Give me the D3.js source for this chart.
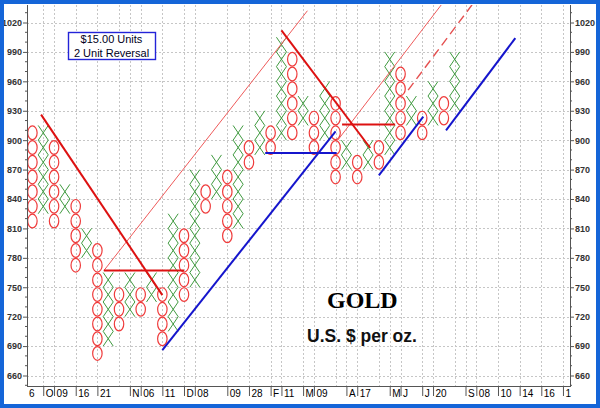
<!DOCTYPE html>
<html>
<head>
<meta charset="utf-8">
<script src="https://cdn.jsdelivr.net/npm/d3@7"></script>
<style>
  body { margin: 0; background: #fff; }
  svg { display: block; font-family: "Liberation Sans", Arial, sans-serif; }
  .grid line { stroke: #c6c6c6; stroke-width: 1; stroke-dasharray: 2,2; }
  .axis-line { stroke: #555; stroke-width: 1; }
  .axis .tick line { stroke: #555; }
  .axis--y text { font-size: 9px; font-weight: bold; fill: #333; }
  .axis--x text { font-size: 10px; fill: #000; }
  .xbox { fill: none; stroke: #3f9a3f; stroke-width: 1; }
  .obox { fill: none; stroke: #ef3b3b; stroke-width: 1.2; }
  .trend { fill: none; }
  .trend.down { stroke: #dd1111; stroke-width: 2; }
  .trend.thin { stroke: #ee5a5a; stroke-width: 1; }
  .trend.dash { stroke: #e55050; stroke-width: 1.4; stroke-dasharray: 9,5; }
  .trend.blue { stroke: #1515cc; stroke-width: 2; }
</style>
</head>
<body>
<div id="pf-chart"></div>
<script>
// point & figure columns: kind, lowest box edge, highest box edge ($)
const colKind = ['O','X','O','X','O','X','O','X','O','X',
                 'O','X','O','X','O','X','O','X','O','X',
                 'O','X','O','X','O','X','O','X','O','X',
                 'O','X','O','X','O','X','O','X','O','X'];
const colLow  = [810, 825, 810, 825, 765, 780, 675, 690, 705, 720,
                 720, 735, 690, 705, 735, 750, 825, 840, 795, 810,
                 870, 885, 885, 900, 900, 915, 885, 900, 855, 870,
                 855, 870, 870, 885, 900, 915, 900, 915, 915, 930];
const colHigh = [915, 915, 900, 855, 840, 810, 795, 765, 750, 765,
                 750, 765, 750, 825, 810, 870, 855, 885, 870, 915,
                 900, 930, 915, 1005, 990, 945, 930, 960, 945, 900,
                 885, 900, 900, 990, 975, 945, 930, 960, 945, 990];
const boxSize = 15;

const priceTicks = [660, 690, 720, 750, 780, 810, 840, 870, 900, 930, 960, 990, 1020];

// date labels under the columns
const dateCols = [0, 1, 2, 4, 6, 9, 10, 12, 14, 15, 18, 20, 22, 23, 25, 26, 29, 30, 33, 34, 36, 37, 40, 41, 43, 45, 47, 49];
const dateText = ['6','O','09','16','21','N','06','11','D','08','09','28','F','11','M','09','A','17','M','J','J','20','S','08','10','14','16','1'];
const gridCols = [1, 2, 4, 6, 8, 9, 10, 12, 14, 15, 18, 20, 22, 23, 25, 26, 28, 29, 30, 32, 33, 34, 36, 37, 39, 40, 41, 43, 45, 47, 49];

// trend lines as [column, price] end points
const downLines  = [[[0.8, 926], [12.0, 742]], [[23.0, 1012], [31.2, 892]],
                    [[6.6, 767], [14.0, 767]], [[28.6, 916], [33.5, 916]]];
const thinLines  = [[[6.6, 767], [25.4, 1032]], [[28.2, 900], [37.9, 1040]]];
const dashLines  = [[[34.7, 951], [40.6, 1038]]];
const blueLines  = [[[12.0, 686], [28.0, 909]], [[21.5, 887], [28.1, 887]],
                    [[32.0, 864], [36.1, 924]], [[38.2, 910], [44.6, 1004]]];

const width = 600,
      height = 408,
      plot = {left: 27, right: 570, top: 5, bottom: 386};

const x = d3.scaleLinear().domain([-0.5, 49.65]).range([plot.left, plot.right]);
const y = d3.scaleLinear().domain([1020, 660]).range([22.5, 375.5]);

const svg = d3.select('#pf-chart').append('svg')
    .attr('width', width)
    .attr('height', height);

svg.append('clipPath').attr('id', 'plot-clip')
  .append('rect')
    .attr('x', plot.left)
    .attr('y', plot.top)
    .attr('width', plot.right - plot.left)
    .attr('height', plot.bottom - plot.top);

// dotted grid
const grid = svg.append('g').attr('class', 'grid');
grid.selectAll('.hgrid')
    .data(priceTicks)
    .enter().append('line')
    .attr('x1', plot.left).attr('x2', plot.right)
    .attr('y1', d => Math.round(y(d)) + 0.5).attr('y2', d => Math.round(y(d)) + 0.5);
grid.selectAll('.vgrid')
    .data(gridCols)
    .enter().append('line')
    .attr('x1', d => Math.round(x(d)) + 0.5).attr('x2', d => Math.round(x(d)) + 0.5)
    .attr('y1', plot.top).attr('y2', plot.bottom);

// boxes
const boxes = colKind.flatMap((kind, i) =>
    d3.range(colLow[i], colHigh[i], boxSize).map(v => ({col: i, kind: kind, v: v + boxSize / 2})));

const hw = (x(1) - x(0)) / 2 - 0.4,
      hh = (y(0) - y(boxSize)) / 2;

const chart = svg.append('g');

chart.selectAll('.xbox')
    .data(boxes.filter(d => d.kind === 'X'))
    .enter().append('path')
    .attr('class', 'xbox')
    .attr('d', d => {
        const cx = x(d.col), cy = y(d.v);
        return `M${cx - hw},${cy - hh}L${cx + hw},${cy + hh}M${cx + hw},${cy - hh}L${cx - hw},${cy + hh}`;
    });

chart.selectAll('.obox')
    .data(boxes.filter(d => d.kind === 'O'))
    .enter().append('ellipse')
    .attr('class', 'obox')
    .attr('cx', d => x(d.col))
    .attr('cy', d => y(d.v))
    .attr('rx', hw - 0.3)
    .attr('ry', hh - 0.5);

// trend lines
const line = d3.line()
    .x(d => x(d[0]))
    .y(d => y(d[1]));

const trends = svg.append('g').attr('clip-path', 'url(#plot-clip)');
[[thinLines, 'thin'], [dashLines, 'dash'], [downLines, 'down'], [blueLines, 'blue']].forEach(([set, cls]) => {
    trends.selectAll('.' + cls)
        .data(set)
        .enter().append('path')
        .attr('class', 'trend ' + cls)
        .attr('d', line);
});

// axes
let yLeft = d3.axisLeft(y).tickValues(priceTicks).tickFormat(d3.format('d')).tickSize(4).tickPadding(1);
svg.append('g')
    .attr('class', 'axis axis--y')
    .attr('transform', `translate(${plot.left},0)`)
    .call(yLeft)
    .call(g => g.select('.domain').remove());

let yRight = d3.axisRight(y).tickValues(priceTicks).tickFormat(d3.format('d')).tickSize(4).tickPadding(1);
svg.append('g')
    .attr('class', 'axis axis--y')
    .attr('transform', `translate(${plot.right},0)`)
    .call(yRight)
    .call(g => g.select('.domain').remove());

// minor ticks on both price axes
const minor = d3.range(650, 1040, 10).filter(v => v % 30 !== 0);
[[plot.left, -2], [plot.right, 2]].forEach(([ax, len]) => {
    svg.append('g').selectAll('line')
        .data(minor)
        .enter().append('line')
        .attr('class', 'axis-line')
        .attr('x1', ax).attr('x2', ax + len)
        .attr('y1', d => y(d)).attr('y2', d => y(d));
});

let xAxis = d3.axisBottom(x)
    .tickValues(dateCols)
    .tickFormat((d, i) => dateText[i])
    .tickSize(10);

svg.append('g')
    .attr('class', 'axis axis--x')
    .attr('transform', `translate(0,${plot.bottom})`)
    .call(xAxis)
    .call(g => g.select('.domain').remove())
    .call(g => g.selectAll('.tick text')
        .style('text-anchor', 'start')
        .attr('x', (d, i) => i === 0 ? -4 : 2)
        .attr('y', 3.6))
    .call(g => g.selectAll('.tick line')
        .attr('opacity', (d, i) => i === 0 ? 0 : 1));

svg.append('line').attr('class', 'axis-line')
    .attr('x1', plot.left + 0.5).attr('x2', plot.left + 0.5)
    .attr('y1', plot.top).attr('y2', plot.bottom);
svg.append('line').attr('class', 'axis-line')
    .attr('x1', plot.right + 0.5).attr('x2', plot.right + 0.5)
    .attr('y1', plot.top).attr('y2', plot.bottom);
svg.append('line').attr('class', 'axis-line')
    .attr('x1', plot.left).attr('x2', plot.right + 1)
    .attr('y1', plot.bottom + 0.5).attr('y2', plot.bottom + 0.5);

// unit box
svg.append('rect')
    .attr('x', 68.5).attr('y', 32.5)
    .attr('width', 87).attr('height', 27)
    .attr('fill', '#fff')
    .attr('stroke', '#2323d8')
    .attr('stroke-width', 1.4);
svg.append('text')
    .attr('x', 111.5).attr('y', 42.7)
    .attr('text-anchor', 'middle')
    .style('font-size', '11px').style('fill', '#000022')
    .text('$15.00 Units');
svg.append('text')
    .attr('x', 111.5).attr('y', 56.5)
    .attr('text-anchor', 'middle')
    .style('font-size', '11px').style('fill', '#000022')
    .text('2 Unit Reversal');

// title
svg.append('text')
    .attr('x', 327).attr('y', 308)
    .style('font-family', '"Liberation Serif", "Times New Roman", serif')
    .style('font-size', '24px').style('font-weight', 'bold')
    .text('GOLD');
svg.append('text')
    .attr('x', 307).attr('y', 341.5)
    .style('font-size', '17.5px').style('font-weight', 'bold').style('fill', '#111')
    .text('U.S. $ per oz.');

// blue frame
svg.append('rect')
    .attr('x', 2).attr('y', 2)
    .attr('width', width - 4).attr('height', height - 4)
    .attr('fill', 'none')
    .attr('stroke', '#1565d8')
    .attr('stroke-width', 4);
</script>
</body>
</html>
